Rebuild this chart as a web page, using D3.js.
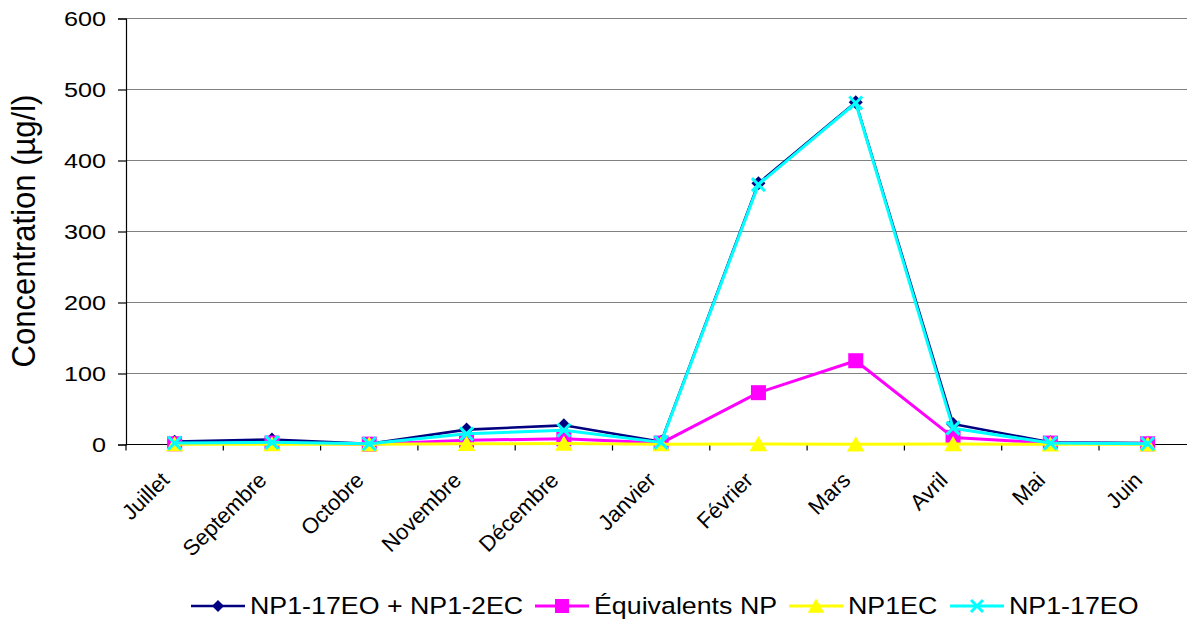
<!DOCTYPE html>
<html>
<head>
<meta charset="utf-8">
<script src="https://cdn.jsdelivr.net/npm/d3@7"></script>
<style>
  html, body { margin: 0; padding: 0; background: #fff; }
  svg { display: block; font-family: "Liberation Sans", Arial, sans-serif; }
</style>
</head>
<body>
<svg id="chart" width="1187" height="620"></svg>
<script>
// Months of the sampling campaign
const months = ["Juillet", "Septembre", "Octobre", "Novembre", "Décembre", "Janvier",
                "Février", "Mars", "Avril", "Mai", "Juin"];

// Concentrations (µg/l)
const np17eoPlus2ec = [4, 7, 1, 21, 27, 4, 368, 482, 29, 3, 2];
const equivalentsNP = [1, 2, 0.5, 6, 8, 2, 73, 118, 10, 2, 1];
const np1ec         = [0.5, 0.5, 0.2, 1, 1.5, 0.5, 0.8, 0.3, 0.8, 0.3, 0.2];
const np17eo        = [2, 3, 1, 15, 20, 3, 366, 481, 23, 2, 1];

const yTicks = [0, 100, 200, 300, 400, 500, 600];

const series = [
  { name: "NP1-17EO + NP1-2EC", values: np17eoPlus2ec, color: "#000080", marker: "diamond" },
  { name: "Équivalents NP",     values: equivalentsNP, color: "#FF00FF", marker: "square" },
  { name: "NP1EC",              values: np1ec,         color: "#FFFF00", marker: "triangle" },
  { name: "NP1-17EO",           values: np17eo,        color: "#00FFFF", marker: "cross" }
];

const svg = d3.select("#chart");
const plotLeft = 126, plotTop = 18.5, plotBottom = 444.5, plotRight = 1196.3;
// Text in this chart is set slightly wide
const stretch = 1.14;

const x = d3.scalePoint().domain(months).range([plotLeft, plotRight]).padding(0.5);
const y = d3.scaleLinear().domain([0, 600]).range([plotBottom, plotTop]);
const step = x.step();

// Horizontal gridlines
svg.append("g").selectAll("line").data(yTicks.filter(d => d > 0)).join("line")
  .attr("x1", plotLeft).attr("x2", plotRight)
  .attr("y1", d => y(d)).attr("y2", d => y(d))
  .attr("stroke", "#808080").attr("stroke-width", 1.2);

// Y axis
const yAxis = svg.append("g").attr("transform", `translate(${plotLeft},0)`)
  .call(d3.axisLeft(y).tickValues(yTicks).tickSize(8).tickPadding(12));
yAxis.select(".domain").attr("stroke", "#000").attr("stroke-width", 1.2);
yAxis.selectAll(".tick line").attr("stroke", "#000").attr("stroke-width", 1.2);
yAxis.selectAll(".tick text")
  .attr("font-size", 21).attr("fill", "#000")
  .attr("font-family", "Liberation Sans, Arial, sans-serif")
  .attr("x", null).attr("dy", null)
  .attr("transform", `translate(-20,0) scale(${stretch + 0.06},1)`)
  .attr("dominant-baseline", "central");

// X axis: ticks between categories
svg.append("line").attr("x1", plotLeft).attr("x2", plotRight)
  .attr("y1", plotBottom).attr("y2", plotBottom).attr("stroke", "#000").attr("stroke-width", 1.2);
const boundaries = d3.range(months.length + 1).map(i => plotLeft + i * step);
svg.append("g").selectAll("line").data(boundaries).join("line")
  .attr("x1", d => d).attr("x2", d => d)
  .attr("y1", plotBottom).attr("y2", plotBottom + 6)
  .attr("stroke", "#000").attr("stroke-width", 1.2);

svg.append("g").selectAll("text").data(months).join("text")
  .attr("transform", d => `translate(${x(d) - 4},${plotBottom + 37}) rotate(-45)`)
  .attr("text-anchor", "end")
  .attr("font-size", 22)
  .attr("fill", "#000")
  .text(d => d);

// Y axis title
svg.append("text")
  .attr("transform", `translate(35,231) rotate(-90) scale(1,1.06)`)
  .attr("text-anchor", "middle")
  .attr("font-size", 31)
  .attr("fill", "#000")
  .text("Concentration (µg/l)");

// Marker shapes
function drawMarker(g, type, color, cx, cy, s) {
  if (type === "diamond") {
    g.append("path").attr("d", `M${cx},${cy - s / 2}L${cx + s / 2},${cy}L${cx},${cy + s / 2}L${cx - s / 2},${cy}Z`)
      .attr("fill", color);
  } else if (type === "square") {
    g.append("rect").attr("x", cx - s / 2).attr("y", cy - s / 2).attr("width", s).attr("height", s)
      .attr("fill", color);
  } else if (type === "triangle") {
    g.append("path").attr("d", `M${cx},${cy - s * 0.5}L${cx + s * 0.55},${cy + s * 0.45}L${cx - s * 0.55},${cy + s * 0.45}Z`)
      .attr("fill", color);
  } else if (type === "cross") {
    const h = s / 2;
    g.append("path").attr("d", `M${cx - h},${cy - h}L${cx + h},${cy + h}M${cx - h},${cy + h}L${cx + h},${cy - h}`)
      .attr("stroke", color).attr("stroke-width", 3).attr("fill", "none");
  }
}
const markerSize = { diamond: 14, square: 15, triangle: 16, cross: 13 };
const legendMarkerSize = { diamond: 12, square: 14, triangle: 15, cross: 12 };

// Series lines and markers
const line = d3.line().x((d, i) => x(months[i])).y(d => y(d));
series.forEach(s => {
  const g = svg.append("g");
  g.append("path").datum(s.values).attr("d", line)
    .attr("fill", "none").attr("stroke", s.color)
    .attr("stroke-width", s.marker === "diamond" ? 2.6 : 3)
    .attr("stroke-linejoin", "round");
  s.values.forEach((v, i) => drawMarker(g, s.marker, s.color, x(months[i]), y(v), markerSize[s.marker]));
});

// Legend
const legendY = 606;
const legendX = [191, 535, 789, 950];
series.forEach((s, i) => {
  const g = svg.append("g");
  const x0 = legendX[i];
  g.append("line").attr("x1", x0).attr("x2", x0 + 54).attr("y1", legendY).attr("y2", legendY)
    .attr("stroke", s.color).attr("stroke-width", s.marker === "diamond" ? 2.6 : 3);
  drawMarker(g, s.marker, s.color, x0 + 27, legendY, legendMarkerSize[s.marker]);
  g.append("text")
    .attr("transform", `translate(${x0 + 59},${legendY}) scale(${stretch},1)`)
    .attr("dy", "0.36em")
    .attr("font-size", 23.5).attr("fill", "#000").text(s.name);
});
</script>
</body>
</html>
